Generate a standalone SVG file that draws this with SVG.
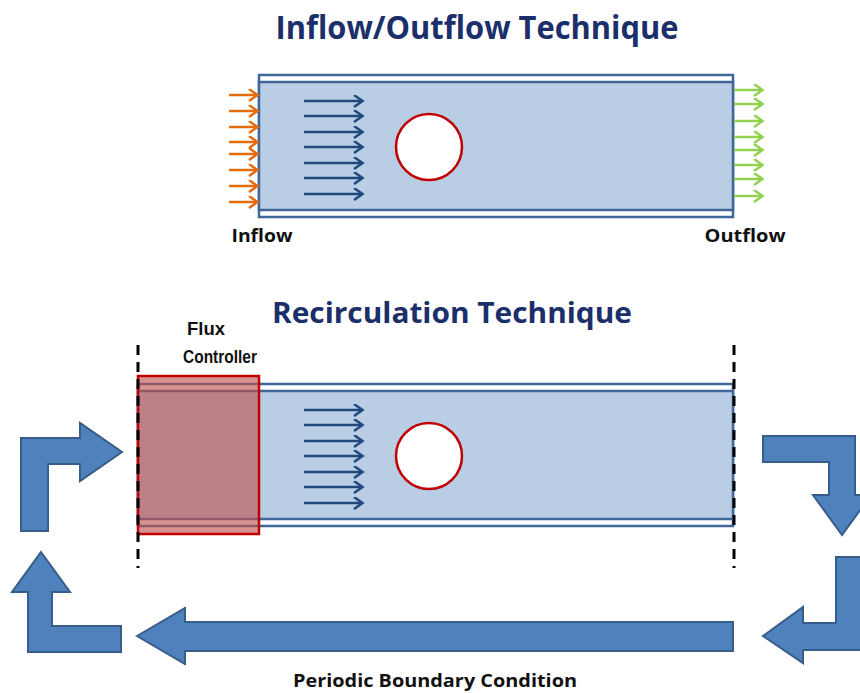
<svg xmlns="http://www.w3.org/2000/svg" width="860" height="693" viewBox="0 0 860 693">
<defs>
<style>
.title{font-family:"Open Sans","Liberation Sans",sans-serif;font-weight:bold;fill:#1B2F6A}
.lbl{font-family:"Open Sans","Liberation Sans",sans-serif;font-weight:bold;fill:#111}
.lbl2{font-family:"Liberation Sans",Arial,sans-serif;font-weight:bold;fill:#111}
.wall{fill:#fff;stroke:#41679A;stroke-width:2.5}
.fluid{fill:#B9CDE5;stroke:#41679A;stroke-width:2.5}
.flow{stroke:#1F497D;stroke-width:2.5;fill:none}
.in{stroke:#E46C0A;stroke-width:2.5;fill:none}
.out{stroke:#92D050;stroke-width:2.5;fill:none}
.cyl{fill:#fff;stroke:#C00000;stroke-width:2.5}
.big{fill:#4F81BD;stroke:#385D8A;stroke-width:2}
.dash{stroke:#000;stroke-width:3;stroke-dasharray:10 7;fill:none}
</style>
<marker id="mFlow" markerUnits="userSpaceOnUse" markerWidth="12" markerHeight="14" refX="9" refY="6.5" orient="auto"><path d="M1,0.5 L9.5,6.5 L1,12.5" fill="none" stroke="#1F497D" stroke-width="2.5"/></marker>
<marker id="mIn" markerUnits="userSpaceOnUse" markerWidth="12" markerHeight="14" refX="9" refY="6.5" orient="auto"><path d="M1,0.5 L9.5,6.5 L1,12.5" fill="none" stroke="#E46C0A" stroke-width="2.5"/></marker>
<marker id="mOut" markerUnits="userSpaceOnUse" markerWidth="12" markerHeight="14" refX="9" refY="6.5" orient="auto"><path d="M1,0.5 L9.5,6.5 L1,12.5" fill="none" stroke="#92D050" stroke-width="2.5"/></marker>
</defs>

<text class="title" x="477" y="39" font-size="32" text-anchor="middle" textLength="403" lengthAdjust="spacingAndGlyphs">Inflow/Outflow Technique</text>
<text class="title" x="452" y="323" font-size="29" text-anchor="middle" textLength="360" lengthAdjust="spacingAndGlyphs">Recirculation Technique</text>

<g id="channel-top">
<rect class="wall" x="259" y="75" width="474" height="142"/>
<rect class="fluid" x="259" y="82" width="474" height="128"/>
<circle class="cyl" cx="429" cy="147" r="33"/>
</g>

<g id="channel-bottom">
<rect class="wall" x="138" y="384" width="595" height="142"/>
<rect class="fluid" x="138" y="391" width="595" height="128"/>
<circle class="cyl" cx="429" cy="456" r="33"/>
</g>

<g id="flux-controller">
<rect x="138" y="376" width="121" height="158" fill="#C0504D" fill-opacity="0.62" stroke="#C00000" stroke-width="2.5"/>
<text class="lbl2" x="206" y="335" font-size="18" text-anchor="middle" textLength="38" lengthAdjust="spacingAndGlyphs">Flux</text>
<text class="lbl2" x="220" y="363" font-size="18" text-anchor="middle" textLength="74" lengthAdjust="spacingAndGlyphs">Controller</text>
</g>

<g id="labels">
<text class="lbl" x="262" y="242" font-size="18" text-anchor="middle" textLength="61" lengthAdjust="spacingAndGlyphs">Inflow</text>
<text class="lbl" x="745" y="242" font-size="18" text-anchor="middle" textLength="81" lengthAdjust="spacingAndGlyphs">Outflow</text>
<text class="lbl" x="435" y="687" font-size="18" text-anchor="middle" textLength="284" lengthAdjust="spacingAndGlyphs">Periodic Boundary Condition</text>
</g>

<g id="connectors">
<g id="inflow-arrows">
<line class="in" x1="229" y1="95" x2="257" y2="95" marker-end="url(#mIn)"/>
<line class="in" x1="229" y1="111" x2="257" y2="111" marker-end="url(#mIn)"/>
<line class="in" x1="229" y1="127" x2="257" y2="127" marker-end="url(#mIn)"/>
<line class="in" x1="229" y1="142" x2="257" y2="142" marker-end="url(#mIn)"/>
<line class="in" x1="229" y1="154" x2="257" y2="154" marker-end="url(#mIn)"/>
<line class="in" x1="229" y1="170" x2="257" y2="170" marker-end="url(#mIn)"/>
<line class="in" x1="229" y1="186" x2="257" y2="186" marker-end="url(#mIn)"/>
<line class="in" x1="229" y1="202" x2="257" y2="202" marker-end="url(#mIn)"/>
</g>
<g id="outflow-arrows">
<line class="out" x1="734" y1="90" x2="762" y2="90" marker-end="url(#mOut)"/>
<line class="out" x1="734" y1="104" x2="762" y2="104" marker-end="url(#mOut)"/>
<line class="out" x1="734" y1="121" x2="762" y2="121" marker-end="url(#mOut)"/>
<line class="out" x1="734" y1="137" x2="762" y2="137" marker-end="url(#mOut)"/>
<line class="out" x1="734" y1="150" x2="762" y2="150" marker-end="url(#mOut)"/>
<line class="out" x1="734" y1="165" x2="762" y2="165" marker-end="url(#mOut)"/>
<line class="out" x1="734" y1="179" x2="762" y2="179" marker-end="url(#mOut)"/>
<line class="out" x1="734" y1="196" x2="762" y2="196" marker-end="url(#mOut)"/>
</g>
<g id="flow-top">
<line class="flow" x1="304" y1="101" x2="362" y2="101" marker-end="url(#mFlow)"/>
<line class="flow" x1="304" y1="116" x2="362" y2="116" marker-end="url(#mFlow)"/>
<line class="flow" x1="304" y1="132" x2="362" y2="132" marker-end="url(#mFlow)"/>
<line class="flow" x1="304" y1="147" x2="362" y2="147" marker-end="url(#mFlow)"/>
<line class="flow" x1="304" y1="163" x2="362" y2="163" marker-end="url(#mFlow)"/>
<line class="flow" x1="304" y1="178" x2="362" y2="178" marker-end="url(#mFlow)"/>
<line class="flow" x1="304" y1="194" x2="362" y2="194" marker-end="url(#mFlow)"/>
</g>
<g id="flow-bottom">
<line class="flow" x1="304" y1="410" x2="362" y2="410" marker-end="url(#mFlow)"/>
<line class="flow" x1="304" y1="425" x2="362" y2="425" marker-end="url(#mFlow)"/>
<line class="flow" x1="304" y1="441" x2="362" y2="441" marker-end="url(#mFlow)"/>
<line class="flow" x1="304" y1="456" x2="362" y2="456" marker-end="url(#mFlow)"/>
<line class="flow" x1="304" y1="472" x2="362" y2="472" marker-end="url(#mFlow)"/>
<line class="flow" x1="304" y1="487" x2="362" y2="487" marker-end="url(#mFlow)"/>
<line class="flow" x1="304" y1="503" x2="362" y2="503" marker-end="url(#mFlow)"/>
</g>
<line class="dash" x1="138" y1="345" x2="138" y2="568"/>
<line class="dash" x1="734" y1="345" x2="734" y2="568"/>
<g id="recirculation-arrows">
<polygon class="big" points="763,436 855,436 855,495 871,495 842,535 813,495 829,495 829,462 763,462"/>
<polygon class="big" points="836,557 864,557 864,650 803,650 803,663 763,636 803,607 803,623 836,623"/>
<polygon class="big" points="137,636 185,608 185,622 733,622 733,651 185,651 185,664"/>
<polygon class="big" points="41,552 70,592 52,592 52,626 121,626 121,652 28,652 28,592 12,592"/>
<polygon class="big" points="21,531 21,438 80,438 80,423 122,452 80,481 80,464 48,464 48,531"/>
</g>
</g>
</svg>
